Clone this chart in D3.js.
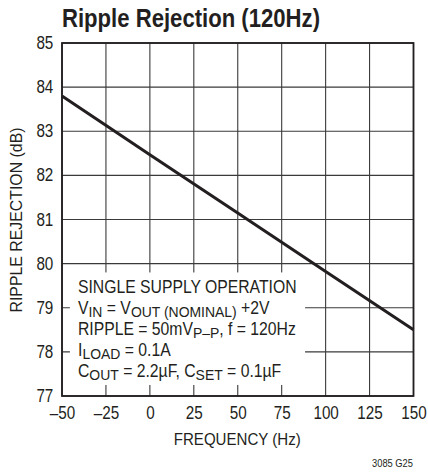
<!DOCTYPE html>
<html>
<head>
<meta charset="utf-8">
<script src="https://cdn.jsdelivr.net/npm/d3@7"></script>
<style>
  body { margin: 0; background: #fff; }
  svg text { font-family: "Liberation Sans", Arial, sans-serif; fill: #231f20; }
</style>
</head>
<body>
<div id="chart"></div>
<script>
// chart data
var frequency = [-50, 0, 50, 100, 150];
var rejection = [83.8, 82.47, 81.15, 79.82, 78.5];
var xTicks = [-50, -25, 0, 25, 50, 75, 100, 125, 150];
var yTicks = [77, 78, 79, 80, 81, 82, 83, 84, 85];
var noteLines = [
  [["SINGLE SUPPLY OPERATION", false]],
  [["V", false], ["IN", true], [" = V", false], ["OUT (NOMINAL)", true], [" +2V", false]],
  [["RIPPLE = 50mV", false], ["P\u2013P", true], [", f = 120Hz", false]],
  [["I", false], ["LOAD", true], [" = 0.1A", false]],
  [["C", false], ["OUT", true], [" = 2.2\u00b5F, C", false], ["SET", true], [" = 0.1\u00b5F", false]]
];

// set the dimensions and margins of the graph
var margin = { top: 43, right: 14.5, bottom: 77, left: 62 },
  width = 428 - margin.left - margin.right,
  height = 473 - margin.top - margin.bottom;

// condensed look: squeeze text horizontally
var squeeze = 0.9;

var root = d3.select("#chart")
  .append("svg")
  .attr("width", 428)
  .attr("height", 473);

var svg = root.append("g")
  .attr("transform", "translate(" + margin.left + "," + margin.top + ")");

var x = d3.scaleLinear().domain([-50, 150]).range([0, width]);
var y = d3.scaleLinear().domain([77, 85]).range([height, 0]);

// grid
svg.selectAll(".vgrid")
  .data(xTicks)
  .enter().append("line")
  .attr("x1", d => x(d)).attr("x2", d => x(d))
  .attr("y1", 0).attr("y2", height)
  .attr("stroke", "#3a3a3a")
  .attr("stroke-width", 1.1);

svg.selectAll(".hgrid")
  .data(yTicks)
  .enter().append("line")
  .attr("x1", 0).attr("x2", width)
  .attr("y1", d => y(d)).attr("y2", d => y(d))
  .attr("stroke", "#3a3a3a")
  .attr("stroke-width", 1.1);

// the curve
svg.append("path")
  .datum(frequency.map((f, i) => [f, rejection[i]]))
  .attr("fill", "none")
  .attr("stroke", "#231f20")
  .attr("stroke-width", 3)
  .attr("d", d3.line().x(d => x(d[0])).y(d => y(d[1])));

// note box covering the grid
svg.append("rect")
  .attr("x", x(-45.5))
  .attr("y", y(79.8))
  .attr("width", x(88.3) - x(-45.5))
  .attr("height", y(77.25) - y(79.8))
  .attr("fill", "#fff");

var note = svg.append("g")
  .attr("transform", "translate(" + (78 - margin.left) + ",0) scale(" + squeeze + ",1)")
  .append("text")
  .attr("font-size", 17.5);
noteLines.forEach(function(parts, i) {
  var t = note.append("tspan")
    .attr("x", 0)
    .attr("y", 293 - margin.top + i * 21);
  parts.forEach(function(p) {
    t.append("tspan")
      .attr("font-size", p[1] ? 15.5 : 17.5)
      .attr("baseline-shift", p[1] ? "-3.5" : null)
      .text(p[0]);
  });
});

// frame
svg.append("rect")
  .attr("width", width)
  .attr("height", height)
  .attr("fill", "none")
  .attr("stroke", "#231f20")
  .attr("stroke-width", 1.8);

// tick labels
var xAxis = d3.axisBottom(x).tickValues(xTicks).tickSize(0).tickPadding(11)
  .tickFormat(d => d < 0 ? "\u2013" + Math.abs(d) : d);
svg.append("g")
  .attr("transform", "translate(0," + height + ")")
  .call(xAxis)
  .call(g => g.select(".domain").remove());

var yAxis = d3.axisLeft(y).tickValues(yTicks).tickSize(0).tickPadding(10);
svg.append("g")
  .call(yAxis)
  .call(g => g.select(".domain").remove());

root.selectAll(".tick text")
  .attr("font-family", null)
  .attr("font-size", 17.5)
  .attr("fill", "#231f20")
  .attr("transform", "scale(0.87,1)");

// text label for the x axis
svg.append("text")
  .attr("x", width / 2 - 0.5)
  .attr("y", height + 49)
  .attr("text-anchor", "middle")
  .attr("font-size", 17)
  .attr("textLength", 127)
  .attr("lengthAdjust", "spacingAndGlyphs")
  .text("FREQUENCY (Hz)");

// text label for the y axis
svg.append("text")
  .attr("transform", "rotate(-90)")
  .attr("x", -(220 - margin.top))
  .attr("y", 22 - margin.left)
  .attr("text-anchor", "middle")
  .attr("font-size", 17)
  .attr("textLength", 185)
  .attr("lengthAdjust", "spacingAndGlyphs")
  .text("RIPPLE REJECTION (dB)");

// title
root.append("text")
  .attr("x", 62)
  .attr("y", 27)
  .attr("font-size", 26)
  .attr("font-weight", "bold")
  .attr("textLength", 258)
  .attr("lengthAdjust", "spacingAndGlyphs")
  .text("Ripple Rejection (120Hz)");

// figure id
root.append("text")
  .attr("x", 372)
  .attr("y", 467)
  .attr("font-size", 11.5)
  .attr("textLength", 41)
  .attr("lengthAdjust", "spacingAndGlyphs")
  .text("3085 G25");
</script>
</body>
</html>
